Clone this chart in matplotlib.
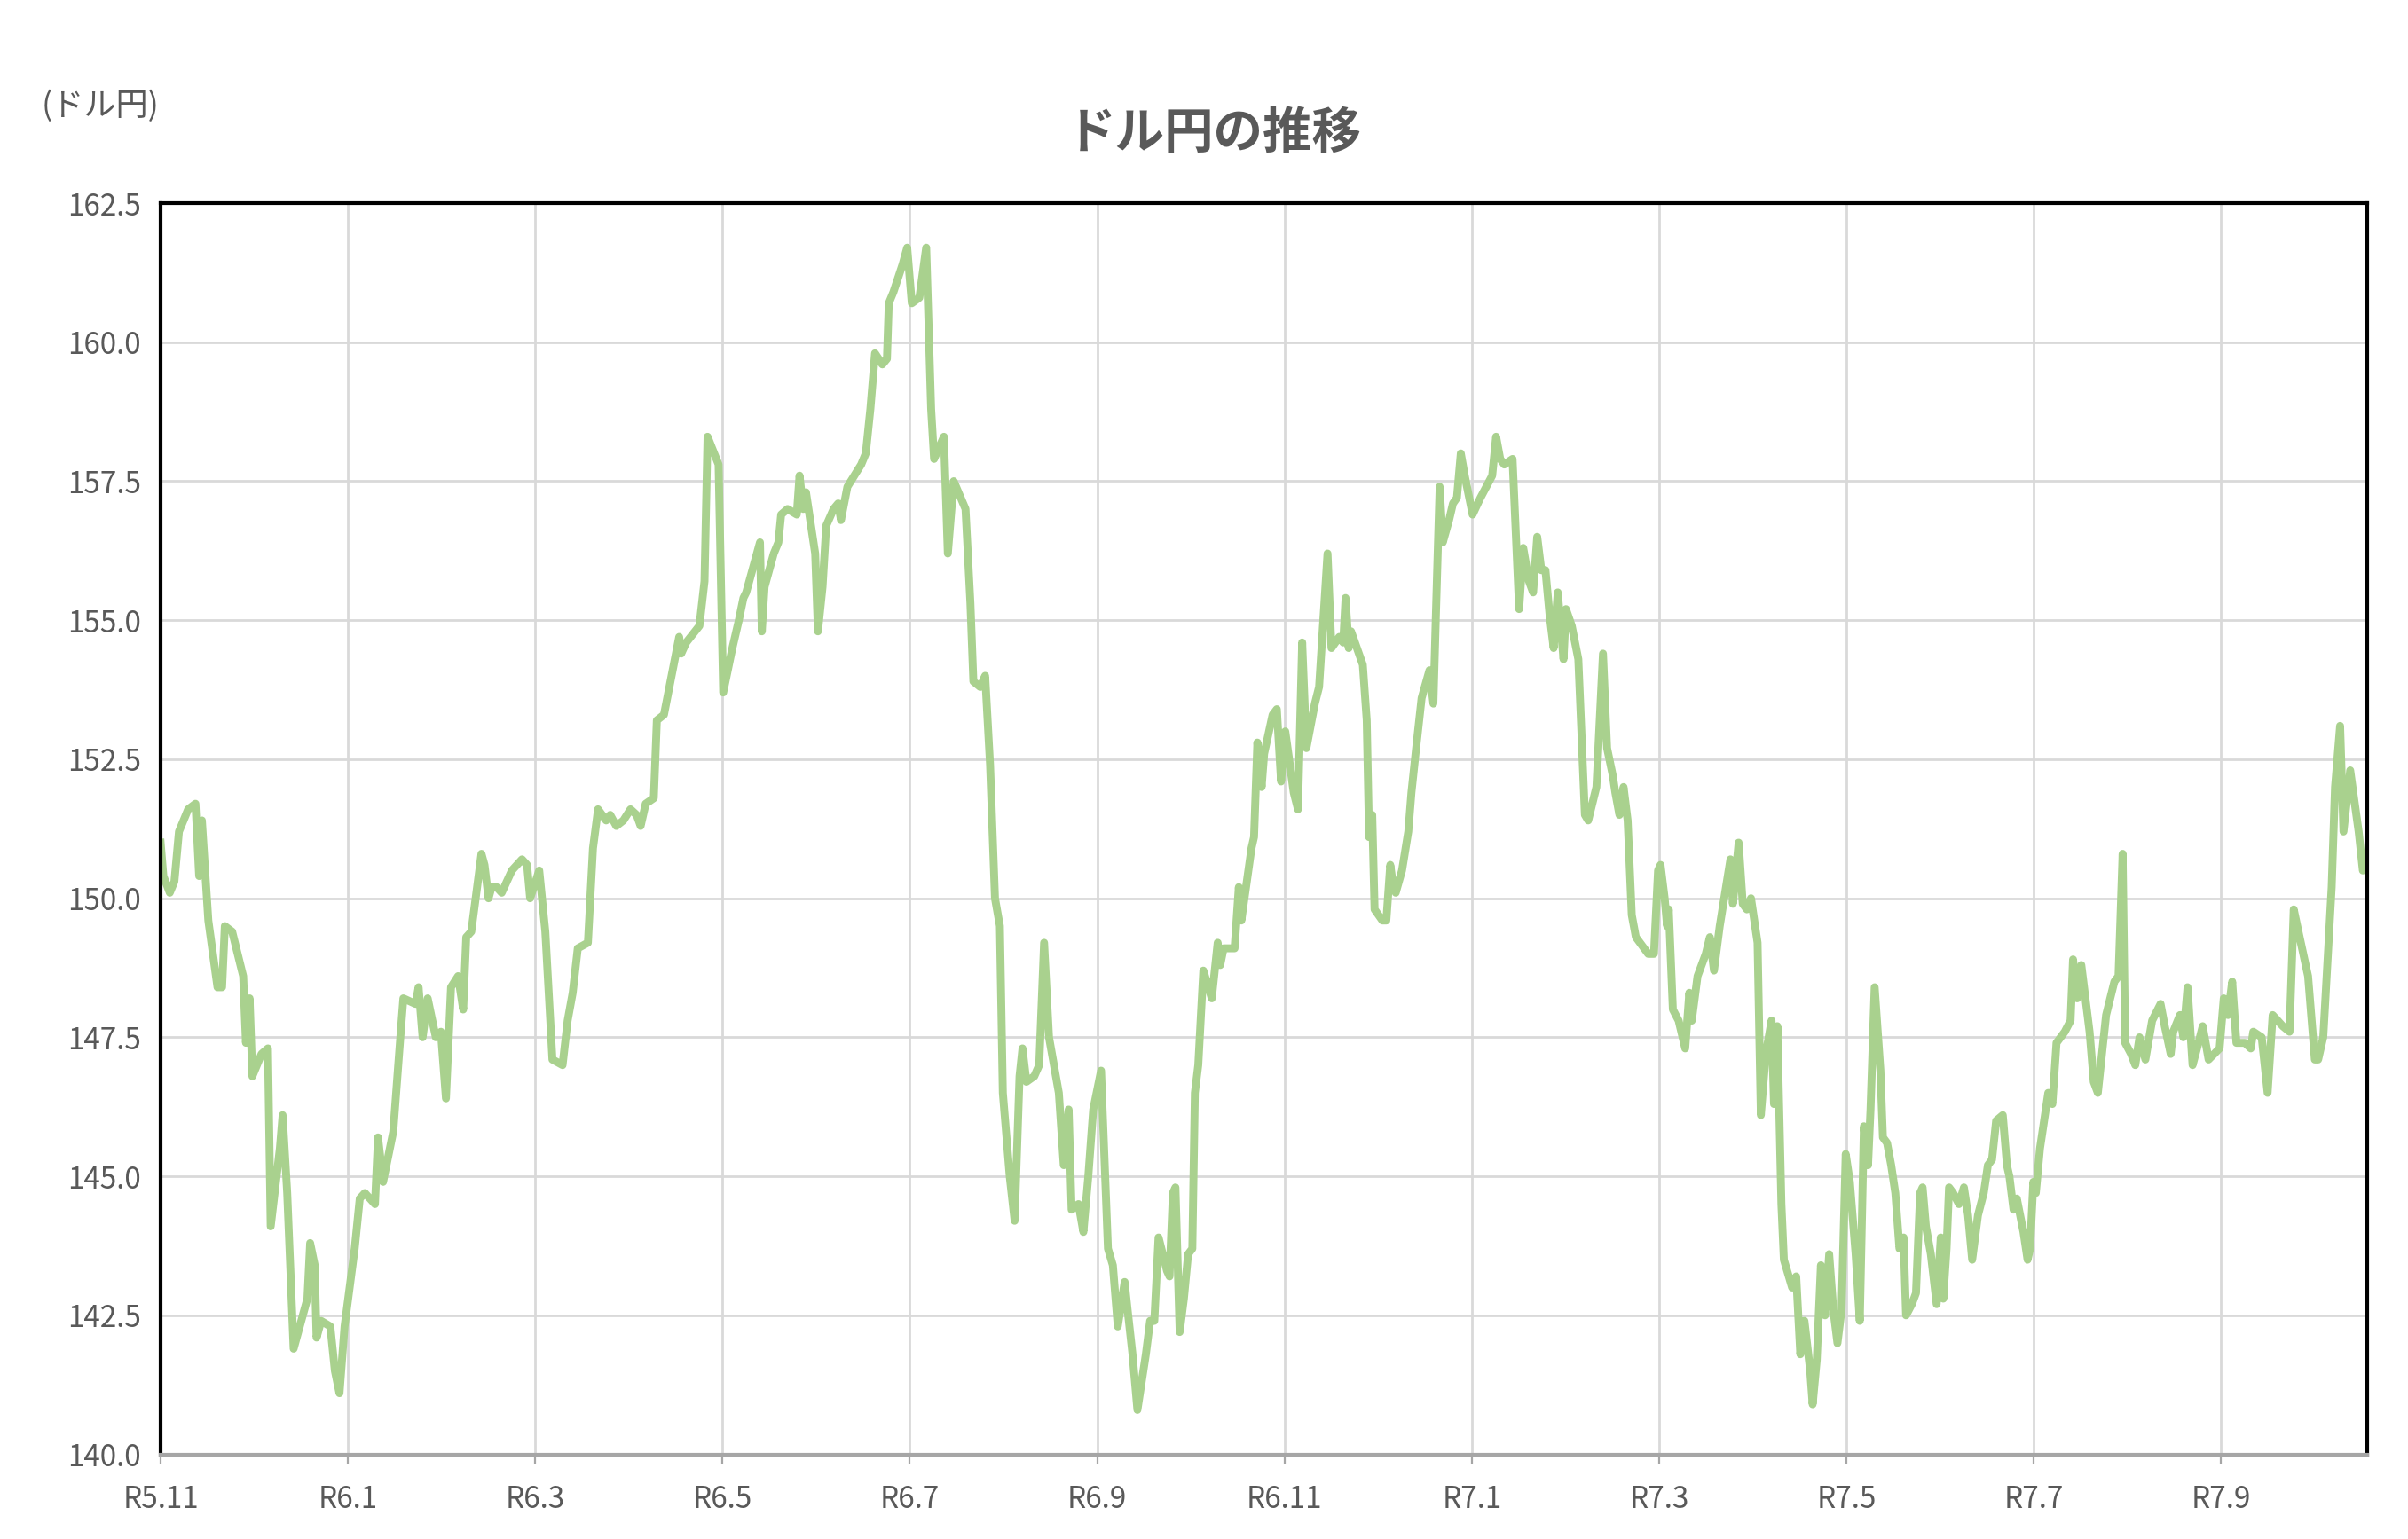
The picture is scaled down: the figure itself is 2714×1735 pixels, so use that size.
import numpy as np
import matplotlib
matplotlib.use("Agg")
import matplotlib.pyplot as plt

plt.rcParams['font.family'] = ['Noto Sans CJK JP', 'DejaVu Sans']

tick_labels = ["R5.11","R6.1","R6.3","R6.5","R6.7","R6.9","R6.11","R7.1","R7.3","R7.5","R7.7","R7.9"]
tick_months = [0,2,4,6,8,10,12,14,16,18,20,22]

read_pos = [0,0.03,0.1,0.15,0.2,0.3,0.38,0.42,0.45,0.52,0.62,0.67,0.7,0.78,0.9,0.93,0.97,1.0,1.1,1.17,1.2,1.3,1.33,1.38,1.45,1.55,1.6,1.63,1.68,1.7,1.75,1.85,1.9,1.95,2.0,2.1,2.15,2.2,2.3,2.33,2.38,2.48,2.55,2.58,2.7,2.73,2.77,2.82,2.9,2.95,3.0,3.05,3.12,3.17,3.2,3.25,3.35,3.38,3.42,3.45,3.5,3.55,3.65,3.75,3.8,3.83,3.92,3.98,4.05,4.15,4.2,4.25,4.3,4.4,4.45,4.5,4.58,4.62,4.68,4.75,4.82,4.88,4.92,4.97,5.05,5.08,5.15,5.3,5.32,5.37,5.5,5.55,5.58,5.7,5.75,5.85,5.92,5.97,6.0,6.1,6.15,6.17,6.2,6.3,6.35,6.38,6.45,6.55,6.58,6.62,6.65,6.75,6.78,6.83,6.87,6.95,7.0,7.03,7.1,7.25,7.3,7.35,7.4,7.48,7.53,7.55,7.6,7.7,7.75,7.8,7.88,7.95,8.0,8.03,8.08,8.13,8.17,8.23,8.35,8.4,8.43,8.5,8.55,8.6,8.65,8.7,8.73,8.8,8.85,8.9,8.93,8.97,9.05,9.1,9.15,9.2,9.3,9.35,9.4,9.43,9.5,9.55,9.6,9.65,9.73,9.8,9.85,9.9,9.97,10.0,10.05,10.1,10.2,10.25,10.3,10.35,10.45,10.48,10.52,10.55,10.6,10.65,10.7,10.75,10.78,10.82,10.88,10.92,10.98,11.05,11.08,11.12,11.25,11.3,11.33,11.45,11.48,11.52,11.57,11.6,11.7,11.75,11.8,11.85,11.95,12.0,12.05,12.1,12.2,12.25,12.35,12.4,12.5,12.55,12.58,12.62,12.65,12.8,12.85,12.88,12.92,12.95,13.05,13.1,13.15,13.18,13.22,13.3,13.38,13.42,13.45,13.48,13.55,13.65,13.7,13.73,13.78,13.82,13.9,13.95,14.0,14.05,14.1,14.2,14.3,14.45,14.5,14.55,14.6,14.7,14.78,14.83,14.9,14.95,15.0,15.05,15.1,15.15,15.2,15.25,15.32,15.35,15.42,15.5,15.58,15.62,15.72,15.8,15.85,15.92,15.95,16.0,16.05,16.1,16.15,16.2,16.3,16.35,16.42,16.47,16.5,16.55,16.58,16.6,16.65,16.72,16.8,16.85,16.88,16.95,17.05,17.1,17.15,17.22,17.35,17.38,17.45,17.5,17.55,17.6,17.68,17.72,17.78,17.85,17.88,17.92,17.97,18.0,18.1,18.15,18.2,18.25,18.32,18.35,18.4,18.45,18.5,18.55,18.6,18.65,18.7,18.75,18.8,18.87,18.92,18.97,19.02,19.05,19.1,19.17,19.2,19.25,19.3,19.35,19.4,19.45,19.48,19.55,19.6,19.65,19.68,19.72,19.78,19.85,19.9,19.93,19.97,20.0,20.05,20.12,20.18,20.23,20.28,20.35,20.42,20.47,20.52,20.57,20.65,20.7,20.73,20.78,20.82,20.9,20.95,20.98,21.02,21.05,21.1,21.2,21.25,21.3,21.4,21.47,21.5,21.55,21.6,21.7,21.75,21.8,21.9,22.0,22.05,22.1,22.13,22.2,22.25,22.3,22.37,22.45,22.55,22.6,22.67,22.7,22.78,22.82,22.87,22.93,23.0,23.05,23.12,23.25,23.3,23.35,23.4,23.45,23.55,23.62,23.65,23.75,23.82,23.88,24.0,24.08,24.13,24.2,24.3,24.38,24.42,24.48,24.58,24.62,24.68,24.72,24.8,24.9,24.95,25.0]
usdjpy = [151.0,150.4,150.1,150.3,151.2,151.6,151.7,150.4,151.4,149.6,148.4,148.4,149.5,149.4,148.6,147.4,148.2,146.8,147.2,147.3,144.1,145.5,146.1,144.7,141.9,142.5,142.8,143.8,143.4,142.1,142.4,142.3,141.5,141.1,142.3,143.7,144.6,144.7,144.5,145.7,144.9,145.8,147.5,148.2,148.1,148.4,147.5,148.2,147.5,147.6,146.4,148.4,148.6,148.0,149.3,149.4,150.8,150.6,150.0,150.2,150.2,150.1,150.5,150.7,150.6,150.0,150.5,149.4,147.1,147.0,147.8,148.3,149.1,149.2,150.9,151.6,151.4,151.5,151.3,151.4,151.6,151.5,151.3,151.7,151.8,153.2,153.3,154.7,154.4,154.6,154.9,155.7,158.3,157.8,153.7,154.5,155.0,155.4,155.5,156.1,156.4,154.8,155.6,156.2,156.4,156.9,157.0,156.9,157.6,157.0,157.3,156.2,154.8,155.6,156.7,157.0,157.1,156.8,157.4,157.8,158.0,158.8,159.8,159.6,159.7,160.7,160.9,161.4,161.7,160.7,160.8,161.7,158.8,157.9,158.1,158.3,156.2,157.5,157.0,155.3,153.9,153.8,154.0,152.4,150.0,149.5,146.5,145.0,144.2,146.8,147.3,146.7,146.8,147.0,149.2,147.5,146.5,145.2,146.2,144.4,144.5,144.0,145.0,146.2,146.9,143.7,143.4,142.3,143.1,142.6,141.8,140.8,141.8,142.4,142.4,143.9,143.3,143.2,144.7,144.8,142.2,142.8,143.6,143.7,146.5,147.0,148.7,148.5,148.2,149.2,148.8,149.1,149.1,150.2,149.6,150.9,151.1,152.8,152.0,152.6,153.3,153.4,152.1,153.0,151.9,151.6,154.6,152.7,153.5,153.8,156.2,154.5,154.7,154.6,155.4,154.5,154.8,154.2,153.2,151.1,151.5,149.8,149.6,149.6,150.6,150.3,150.1,150.5,151.2,151.9,152.3,152.7,153.6,154.1,153.5,155.0,157.4,156.4,156.8,157.1,157.2,158.0,157.6,156.9,157.2,157.6,158.3,157.9,157.8,157.9,155.2,156.3,155.7,155.5,156.5,155.9,155.9,155.1,154.5,155.5,154.3,155.2,154.9,154.3,151.5,151.4,152.0,154.4,152.7,152.2,151.9,151.5,152.0,151.4,149.7,149.3,149.1,149.0,149.0,150.5,150.6,150.0,149.5,149.8,148.0,147.8,147.3,148.3,147.8,148.6,149.0,149.3,148.7,149.5,150.7,149.9,151.0,149.9,149.8,150.0,149.2,146.1,147.2,147.8,146.3,147.7,144.5,143.5,143.0,143.2,141.8,142.4,141.5,140.9,141.7,143.4,142.5,143.6,142.6,142.0,142.6,145.4,144.9,143.6,142.4,145.9,145.2,146.2,148.4,146.9,145.7,145.6,145.2,144.7,143.7,143.9,142.5,142.7,142.9,144.7,144.8,144.1,143.6,142.7,143.9,142.8,143.7,144.8,144.7,144.5,144.8,144.3,143.5,144.3,144.7,145.2,145.3,146.0,146.1,145.2,145.0,144.4,144.6,144.0,143.5,143.7,144.9,144.7,145.5,146.5,146.3,147.4,147.6,147.8,148.9,148.2,148.8,147.6,146.7,146.5,147.9,148.5,148.6,150.8,147.4,147.2,147.0,147.5,147.1,147.8,148.1,147.7,147.2,147.6,147.9,147.5,148.4,147.0,147.4,147.7,147.1,147.3,148.2,147.9,148.5,147.4,147.4,147.3,147.6,147.5,146.5,147.9,147.7,147.6,149.8,149.3,148.6,147.1,147.1,147.5,150.2,152.0,153.1,151.2,152.3,151.2,150.5,150.6]

cal_read = [0,1.95,5.58,7.85,10.1,12.35,14.5,18.35,22.1,25]
cal_month = [0,1.91,5.84,8.07,10.43,12.46,14.26,17.64,20.95,23.56]
months = np.interp(read_pos, cal_read, cal_month)

fig = plt.figure(figsize=(13.57, 8.675), dpi=200)
ax = fig.add_axes([0.0667, 0.055, 0.9163, 0.813])
ax.plot(months, usdjpy, color='#A9D18E', lw=3.2, solid_joinstyle='round')
ax.set_xlim(0, 23.56)
ax.set_ylim(140, 162.5)
ax.set_yticks(np.arange(140, 162.6, 2.5))
ax.set_yticklabels([f"{v:.1f}" for v in np.arange(140, 162.6, 2.5)])
ax.set_xticks(tick_months)
ax.set_xticklabels(tick_labels)
ax.grid(True, color='#D9D9D9', lw=1.0)
ax.set_axisbelow(True)
for s in ax.spines.values():
    s.set_color('black'); s.set_linewidth(1.5)
ax.spines['bottom'].set_color('#A6A6A6')
ax.tick_params(axis='both', colors='#595959', labelsize=12, length=0, pad=8)
ax.tick_params(axis='x', length=4, color='#A6A6A6', direction='out')
fig.text(0.504, 0.913, "ドル円の推移", ha='center', va='center', fontsize=20, fontweight='bold', color='#595959')
fig.text(0.017, 0.931, "(ドル円)", ha='left', va='center', fontsize=13, color='#595959')
fig.savefig("out.png", dpi=200)
